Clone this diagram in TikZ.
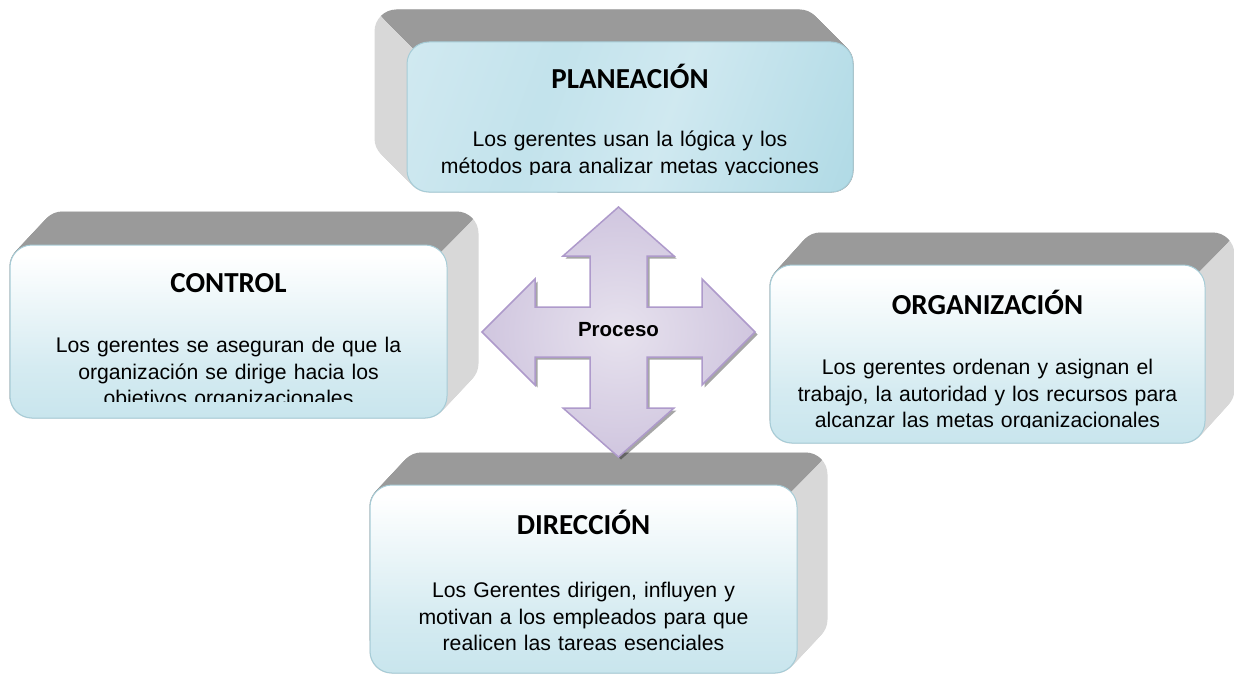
\documentclass[tikz,border=0pt]{standalone}
\usepackage{fontspec}
\setmainfont{Liberation Sans}
\newfontfamily\headfont{Carlito}
\usepackage{tikz}
\usetikzlibrary{positioning}
\usetikzlibrary{backgrounds}
\usetikzlibrary{shadows}

\definecolor{topgray}{HTML}{9A9A9A}
\definecolor{sidegray}{HTML}{D8D8D8}
\definecolor{faceblue}{HTML}{B3DBE6}
\definecolor{faceedge}{HTML}{A6CCD7}
\definecolor{planlight}{HTML}{DDEFF5}
\definecolor{plandark}{HTML}{9BD0DE}
\definecolor{lilac}{HTML}{E7E2EE}
\definecolor{lilacdark}{HTML}{D0C6DF}
\definecolor{lilacedge}{HTML}{AE9ACB}

\pgfdeclareverticalshading{facefade}{100bp}{color(0bp)=(faceblue); color(40bp)=(faceblue!55!white); color(72bp)=(white); color(100bp)=(white)}
\pgfdeclarehorizontalshading{planfade}{100bp}{color(0bp)=(planlight); color(38bp)=(planlight!60!plandark); color(55bp)=(planlight!80!plandark); color(100bp)=(plandark)}

\tikzstyle{face} = [rectangle, rounded corners=22pt, draw=faceedge, line width=1pt, shade, shading=facefade]
\tikzstyle{planface} = [face, shading=planfade, shading angle=-20]
\tikzstyle{heading} = [anchor=base, inner sep=0pt, font=\headfont\bfseries\fontsize{29}{34}\selectfont]
\tikzstyle{body} = [anchor=base, inner sep=0pt, text width=420pt, align=center, font=\fontsize{21.2}{26.5}\selectfont]
\tikzstyle{cross} = [draw=lilacedge, line width=1.5pt, inner color=lilac, outer color=lilacdark, drop shadow={shadow xshift=2.5pt, shadow yshift=-2.5pt, fill=black, opacity=0.35}]
\tikzstyle{hubtext} = [inner sep=0pt, font=\bfseries\fontsize{20.5}{24}\selectfont]

% extruded body behind a face: node, offset x, offset y, colour
\newcommand{\slab}[4]{%
  \foreach \k in {0,...,24}
    \fill[#4, rounded corners=22pt] ([shift={({\k*(#2)/24},{\k*(#3)/24})}]#1.south west) rectangle ([shift={({\k*(#2)/24},{\k*(#3)/24})}]#1.north east);
}

\begin{document}
\begin{tikzpicture}[x=1pt, y=-1pt]
    \useasboundingbox (0,0) rectangle (1234,677);

    % PLANEACION
    \node (plan) [planface, minimum width=446pt, minimum height=150pt] at (630,117) {};
    \begin{pgfonlayer}{background}
        \fill[white] (0,0) rectangle (1234,677);
        \slab{plan}{-32}{-32}{sidegray}
        \begin{scope}
            \clip ([shift={(156,156)}]plan.north west) -- ([shift={(-144,-144)}]plan.north west) -- ([shift={(756,-144)}]plan.north west) -- ([shift={(1056,156)}]plan.north west) -- cycle;
            \slab{plan}{-32}{-32}{topgray}
        \end{scope}
    \end{pgfonlayer}
    \node (planHead) [heading] at ([yshift=-47pt]plan.north) {PLANEACIÓN};
    \begin{scope}
        \clip (plan.north west) rectangle ([yshift=18.5pt]plan.south east);
        \node (planText) [body] at ([yshift=-105pt]plan.north) {Los gerentes usan la lógica y los\\ métodos para analizar metas yacciones};
    \end{scope}

    % CONTROL
    \node (ctrl) [face, minimum width=437pt, minimum height=173pt] at (228.5,331.5) {};
    \begin{pgfonlayer}{background}
        \slab{ctrl}{31}{-33}{sidegray}
        \begin{scope}
            \clip ([shift={(-156,156)}]ctrl.north east) -- ([shift={(144,-144)}]ctrl.north east) -- ([shift={(-756,-144)}]ctrl.north east) -- ([shift={(-1056,156)}]ctrl.north east) -- cycle;
            \slab{ctrl}{31}{-33}{topgray}
        \end{scope}
    \end{pgfonlayer}
    \node (ctrlHead) [heading] at ([yshift=-48pt]ctrl.north) {CONTROL};
    \begin{scope}
        \clip (ctrl.north west) rectangle ([yshift=17pt]ctrl.south east);
        \node (ctrlText) [body] at ([yshift=-108pt]ctrl.north) {Los gerentes se aseguran de que la\\ organización se dirige hacia los\\ objetivos organizacionales};
    \end{scope}

    % ORGANIZACION
    \node (org) [face, minimum width=435pt, minimum height=178pt] at (987.5,354) {};
    \begin{pgfonlayer}{background}
        \slab{org}{29}{-32}{sidegray}
        \begin{scope}
            \clip ([shift={(-156,156)}]org.north east) -- ([shift={(144,-144)}]org.north east) -- ([shift={(-756,-144)}]org.north east) -- ([shift={(-1056,156)}]org.north east) -- cycle;
            \slab{org}{29}{-32}{topgray}
        \end{scope}
    \end{pgfonlayer}
    \node (orgHead) [heading] at ([yshift=-50pt]org.north) {ORGANIZACIÓN};
    \begin{scope}
        \clip (org.north west) rectangle ([yshift=16pt]org.south east);
        \node (orgText) [body] at ([yshift=-110pt]org.north) {Los gerentes ordenan y asignan el\\ trabajo, la autoridad y los recursos para\\ alcanzar las metas organizacionales};
    \end{scope}

    % DIRECCION
    \node (dir) [face, minimum width=427pt, minimum height=188pt] at (583.5,579) {};
    \begin{pgfonlayer}{background}
        \slab{dir}{30}{-32}{sidegray}
        \begin{scope}
            \clip ([shift={(-156,156)}]dir.north east) -- ([shift={(144,-144)}]dir.north east) -- ([shift={(-756,-144)}]dir.north east) -- ([shift={(-1056,156)}]dir.north east) -- cycle;
            \slab{dir}{30}{-32}{topgray}
        \end{scope}
    \end{pgfonlayer}
    \node (dirHead) [heading] at ([yshift=-50pt]dir.north) {DIRECCIÓN};
    \node (dirText) [body] at ([yshift=-113pt]dir.north) {Los Gerentes dirigen, influyen y\\ motivan a los empleados para que\\ realicen las tareas esenciales};

    % cross arrow in the middle
    \coordinate (hub) at (618.5,332);
    \begin{scope}[shift={(hub)}]
        \draw [cross] (0,-125) -- (55.5,-76) -- (28.5,-76) -- (28.5,-25) -- (83.5,-25) -- (83.5,-53) -- (136.5,0) -- (83.5,53) -- (83.5,25) -- (28.5,25) -- (28.5,76) -- (55.5,76) -- (0,125) -- (-55.5,76) -- (-28.5,76) -- (-28.5,25) -- (-83.5,25) -- (-83.5,53) -- (-136.5,0) -- (-83.5,-53) -- (-83.5,-25) -- (-28.5,-25) -- (-28.5,-76) -- (-55.5,-76) -- cycle;
    \end{scope}
    \node (proc) [hubtext] at ([yshift=2pt]hub) {Proceso};

\end{tikzpicture}
\end{document}
